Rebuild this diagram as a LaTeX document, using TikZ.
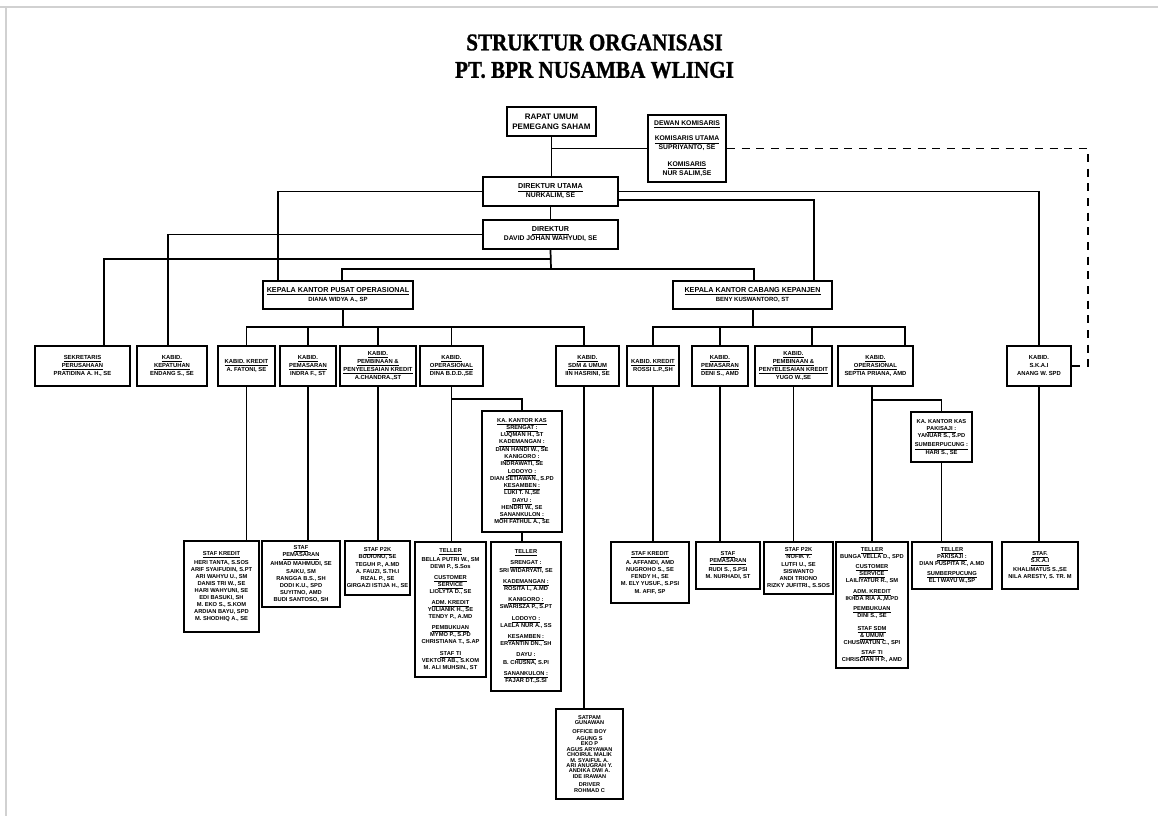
\documentclass[tikz,border=0pt]{standalone}
\usepackage{fontspec}
\setmainfont{Liberation Sans}
\newfontfamily\titlefont[BoldFeatures={FakeBold=1.2}]{Liberation Serif}
\usetikzlibrary{calc}

\newcommand{\fbig}{\fontsize{6}{7.5}\selectfont\bfseries}
\newcommand{\fhead}{\fontsize{5.4}{6.8}\selectfont\bfseries}
\newcommand{\fnm}{\fontsize{5.1}{6.6}\selectfont\bfseries}
\newcommand{\fkpn}{\fontsize{4.5}{6}\selectfont\bfseries}
\newcommand{\fkab}{\fontsize{4.4}{6}\selectfont\bfseries}
\newcommand{\fstaf}{\fontsize{4.3}{5.3}\selectfont\bfseries}
\newcommand{\fsat}{\fontsize{4.2}{4.1}\selectfont\bfseries}
\newcommand{\hd}[1]{\underline{#1}}

\tikzset{every picture/.style={line width=1.3pt}}
\tikzset{
  orgbox/.style 2 args={draw, line width=1.3pt, align=center, inner xsep=0.5pt, inner ysep=1pt,
    minimum width=#1*0.75pt, minimum height=#2*0.75pt},
  kabid/.style={font=\fkab},
  staf/.style={font=\fstaf},
  dashline/.style={dash pattern=on 6pt off 5pt},
}

\begin{document}
\begin{tikzpicture}[x=0.75pt,y=0.75pt,yscale=-1,xscale=1]

\useasboundingbox (0,0) rectangle (1158,816);
\draw [color=black!18, line width=0.8pt] (0,7) -- (1158,7) (6,7) -- (6,816);

% Title
\node (t1) at (594.5,42.5) {\titlefont\bfseries\fontsize{18}{18}\selectfont\scalebox{0.88}[1]{STRUKTUR ORGANISASI}};
\node (t2) at (594.5,70) {\titlefont\bfseries\fontsize{18}{18}\selectfont\scalebox{0.88}[1]{PT. BPR NUSAMBA WLINGI}};

% Text Node
\node (rups) at (551.5,121.5) [orgbox={89}{29}, font=\fbig] {RAPAT UMUM\\PEMEGANG SAHAM};
% Text Node
\node (dewan) at (687,148.5) [orgbox={78}{67}, font=\fnm] {\hd{DEWAN KOMISARIS}\\[5pt]\hd{KOMISARIS UTAMA}\\SUPRIYANTO, SE\\[6pt]\hd{KOMISARIS}\\NUR SALIM,SE};
% Text Node
\node (dirut) at (550.5,191.5) [orgbox={135}{29}, font=\fhead] {\hd{DIREKTUR UTAMA}\\\fnm NURKALIM, SE};
% Text Node
\node (dir) at (550.5,234.5) [orgbox={135}{29}, font=\fhead] {\hd{DIREKTUR}\\\fnm DAVID JOHAN WAHYUDI, SE};
% Text Node
\node (kpo) at (338,295) [orgbox={150}{28}, font=\fhead] {\hd{KEPALA KANTOR PUSAT OPERASIONAL}\\\fkpn DIANA WIDYA A., SP};
% Text Node
\node (kcb) at (752.5,295) [orgbox={159}{28}, font=\fhead] {\hd{KEPALA KANTOR CABANG KEPANJEN}\\\fkpn BENY KUSWANTORO, ST};

% Text Node
\node (sekr) at (82.5,366) [orgbox={95}{40}, kabid] {\hd{SEKRETARIS}\\\hd{PERUSAHAAN}\\PRATIDINA A. H., SE};
\node (kptn) at (172,366) [orgbox={70}{40}, kabid] {\hd{KABID.}\\\hd{KEPATUHAN}\\ENDANG S., SE};
\node (kbkr) at (246.5,366) [orgbox={57}{40}, kabid] {\hd{KABID. KREDIT}\\A. FATONI, SE};
\node (kbpm) at (308,366) [orgbox={56}{40}, kabid] {\hd{KABID.}\\\hd{PEMASARAN}\\INDRA F., ST};
\node (kbpp) at (378,366) [orgbox={76}{40}, kabid] {\hd{KABID.}\\\hd{PEMBINAAN \&}\\\hd{PENYELESAIAN KREDIT}\\A.CHANDRA.,ST};
\node (kbop) at (451.5,366) [orgbox={63}{40}, kabid] {\hd{KABID.}\\\hd{OPERASIONAL}\\DINA B.D.D.,SE};
\node (kbsdm) at (587.5,366) [orgbox={63}{40}, kabid] {\hd{KABID.}\\\hd{SDM \& UMUM}\\IIN HASRINI, SE};
\node (ckr) at (653,366) [orgbox={52}{40}, kabid] {\hd{KABID. KREDIT}\\ROSSI L.P.,SH};
\node (cpm) at (720,366) [orgbox={56}{40}, kabid] {\hd{KABID.}\\\hd{PEMASARAN}\\DENI S., AMD};
\node (cpp) at (793.5,366) [orgbox={77}{40}, kabid] {\hd{KABID.}\\\hd{PEMBINAAN \&}\\\hd{PENYELESAIAN KREDIT}\\YUGO W.,SE};
\node (cop) at (875.5,366) [orgbox={75}{40}, kabid] {\hd{KABID.}\\\hd{OPERASIONAL}\\SEPTIA PRIANA, AMD};
\node (skai) at (1039,366) [orgbox={64}{40}, kabid] {KABID.\\S.K.A.I\\ANANG W. SPD};

% Text Node
\node (kk1) at (522,471.5) [orgbox={80}{121}, staf] {\hd{KA. KANTOR KAS}\\\hd{SRENGAT :}\\LUQMAN H., ST\\[0.3pt]\hd{KADEMANGAN :}\\DIAN HANDI W., SE\\[0.3pt]\hd{KANIGORO :}\\INDRAWATI, SE\\[0.3pt]\hd{LODOYO :}\\DIAN SETIAWAN., S.PD\\[0.3pt]\hd{KESAMBEN :}\\LUKI T. N.,SE\\[0.3pt]\hd{DAYU :}\\HENDRI W., SE\\[0.3pt]\hd{SANANKULON :}\\MOH FATHUL A., SE};
\node (kk2) at (941.5,437) [orgbox={61}{50}, staf] {KA. KANTOR KAS\\\hd{PAKISAJI :}\\YANUAR S., S.PD\\[2pt]\hd{SUMBERPUCUNG :}\\HARI S., SE};

% Text Node
\node (skr) at (221.5,586.5) [orgbox={75}{91}, staf] {\hd{STAF KREDIT}\\[1.5pt]HERI TANTA, S.SOS\\ARIF SYAIFUDIN, S.PT\\ARI WAHYU U., SM\\DANIS TRI W., SE\\HARI WAHYUNI, SE\\EDI BASUKI, SH\\M. EKO S., S.KOM\\ARDIAN BAYU, SPD\\M. SHODHIQ A., SE};
\node (spm) at (301,574) [orgbox={78}{66}, staf] {\hd{STAF}\\\hd{PEMASARAN}\\[1.5pt]AHMAD MAHMUDI, SE\\SAIKU, SM\\RANGGA B.S., SH\\DODI K.U., SPD\\SUYITNO, AMD\\BUDI SANTOSO, SH};
\node (spk) at (377.5,568) [orgbox={65}{54}, staf] {\hd{STAF P2K}\\BUDIONO, SE\\TEGUH P., A.MD\\A. FAUZI, S.TH.I\\RIZAL P., SE\\GIRGAZI ISTIJA H., SE};
\node (tl1) at (450.5,609.5) [orgbox={71}{135}, staf] {\hd{TELLER}\\[1pt]BELLA PUTRI W., SM\\DEWI P., S.Sos\\[3pt]\hd{CUSTOMER}\\\hd{SERVICE}\\LIOLYTA D., SE\\[3pt]\hd{ADM. KREDIT}\\YULIANIK H., SE\\TENDY P., A.MD\\[3pt]\hd{PEMBUKUAN}\\MYMO P., S.PD\\CHRISTIANA T., S.AP\\[3pt]\hd{STAF TI}\\VEKTOR AB., S.KOM\\M. ALI MUHSIN., ST};
\node (tl2) at (526,616.5) [orgbox={70}{149}, staf] {\hd{TELLER}\\[3.2pt]\hd{SRENGAT :}\\SRI WIDARYATI, SE\\[3.2pt]\hd{KADEMANGAN :}\\ROSITA I., A.MD\\[3.2pt]\hd{KANIGORO :}\\SWARISZA P., S.PT\\[3.2pt]\hd{LODOYO :}\\LAELA NUR A., SS\\[3.2pt]\hd{KESAMBEN :}\\ERYANTIN DN., SH\\[3.2pt]\hd{DAYU :}\\B. CHUSNA, S.PI\\[3.2pt]\hd{SANANKULON :}\\FAJAR DT.,S.SI};
\node (satp) at (589.5,754) [orgbox={67}{90}, font=\fsat] {SATPAM\\GUNAWAN\\[2.2pt]OFFICE BOY\\[1pt]AGUNG S\\EKO P\\AGUS ARYAWAN\\CHOIRUL MALIK\\M. SYAIFUL A.\\ARI ANUGRAH Y.\\ANDIKA DWI A.\\IDE IRAWAN\\[2.2pt]DRIVER\\ROHMAD C};

% Text Node
\node (cskr) at (650,572.5) [orgbox={78}{61}, staf] {\hd{STAF KREDIT}\\[2pt]A. AFFANDI, AMD\\NUGROHO S., SE\\FENDY H., SE\\M. ELY YUSUF., S.PSI\\M. AFIF, SP};
\node (cspm) at (728,565.5) [orgbox={64}{47}, staf] {\hd{STAF}\\\hd{PEMASARAN}\\[1.5pt]RUDI S., S.PSI\\M. NURHADI, ST};
\node (cspk) at (798.5,568) [orgbox={69}{52}, staf] {\hd{STAF P2K}\\NOFIK Y.\\LUTFI U., SE\\SISWANTO\\ANDI TRIONO\\RIZKY JUFITRI., S.SOS};
\node (tl3) at (872,605) [orgbox={72}{126}, staf] {\hd{TELLER}\\BUNGA VELLA D., SPD\\[2.5pt]\hd{CUSTOMER}\\\hd{SERVICE}\\LAILIYATUR R., SM\\[2.5pt]\hd{ADM. KREDIT}\\IKHDA RIA A.,M.PD\\[2.5pt]\hd{PEMBUKUAN}\\DINI S., SE\\[4pt]\hd{STAF SDM}\\\hd{\& UMUM}\\CHUSWATUN C., SPI\\[2.5pt]\hd{STAF TI}\\CHRISDIAN H P., AMD};
\node (tl4) at (952,565.5) [orgbox={80}{47}, staf] {\hd{TELLER}\\\hd{PAKISAJI :}\\DIAN PUSPITA R., A.MD\\[2pt]\hd{SUMBERPUCUNG}\\EL I WAYU W.,SP};
\node (sskai) at (1040,565.5) [orgbox={76}{47}, staf] {\hd{STAF.}\\\hd{S.K.A.I}\\[1pt]KHALIMATUS S.,SE\\NILA ARESTY, S. TR. M};

% Connection
\draw (rups.south) -- (rups.south |- dirut.north);
\draw (rups.south |- dewan.west) -- (dewan.west);
\coordinate (dashc) at (1088,148.5);
\draw [dashline] (dewan.east) -- (dashc) |- (skai.east);
\draw (dirut.south) -- (dirut.south |- dir.north);
\draw (dirut.west) -| ($(kpo.north)+(-60,0)$);
\draw (dirut.east) -| (skai.north);
\draw ($(dirut.east)+(0,8.5)$) -| ($(kcb.north)+(61.5,0)$);
\draw (dir.west) -| ($(kptn.north)+(-4,0)$);

% Connection
\coordinate (bd1) at (551,259);
\coordinate (bd2) at (551,269);
\draw (dir.south) -- (bd2);
\draw (bd1) -| ($(sekr.north)+(21.5,0)$);
\draw ($(kpo.north)+(4,0)$) |- (bd2) -| ($(kcb.north)+(1.5,0)$);

% Connection
\coordinate (bp) at (343,327);
\draw (kpo.south -| bp) -- (bp);
\draw (kbkr.north) |- (bp) -| ($(kbsdm.north)+(-3.5,0)$);
\foreach \k in {kbpm,kbpp,kbop}
  \draw (\k.north) -- (\k.north |- bp);

% Connection
\coordinate (bc) at (753,327);
\coordinate (cppt) at ($(cpp.north)+(18.5,0)$);
\draw (kcb.south -| bc) -- (bc);
\draw (ckr.north) |- (bc) -| ($(cop.north)+(29.5,0)$);
\draw (cpm.north) -- (cpm.north |- bc);
\draw (cppt) -- (cppt |- bc);

% Connection
\foreach \a/\b in {kbkr/skr,kbpm/spm,kbpp/spk,kbop/tl1,ckr/cskr,cpm/cspm,cpp/cspk,skai/sskai}
  \draw (\a.south) -- (\a.south |- \b.north);
\draw ($(kbop.south)+(0,12)$) -| (kk1.north);
\draw (kk1.south) -- (kk1.south |- tl2.north);
\coordinate (sdmb) at ($(kbsdm.south)+(-3.5,0)$);
\draw (sdmb) -- (sdmb |- satp.north);
\coordinate (copb) at ($(cop.south)+(-3.5,0)$);
\draw (copb) -- (copb |- tl3.north);
\draw ($(copb)+(0,13)$) -| (kk2.north);
\draw (kk2.south) -- (kk2.south |- tl4.north);

\end{tikzpicture}
\end{document}
